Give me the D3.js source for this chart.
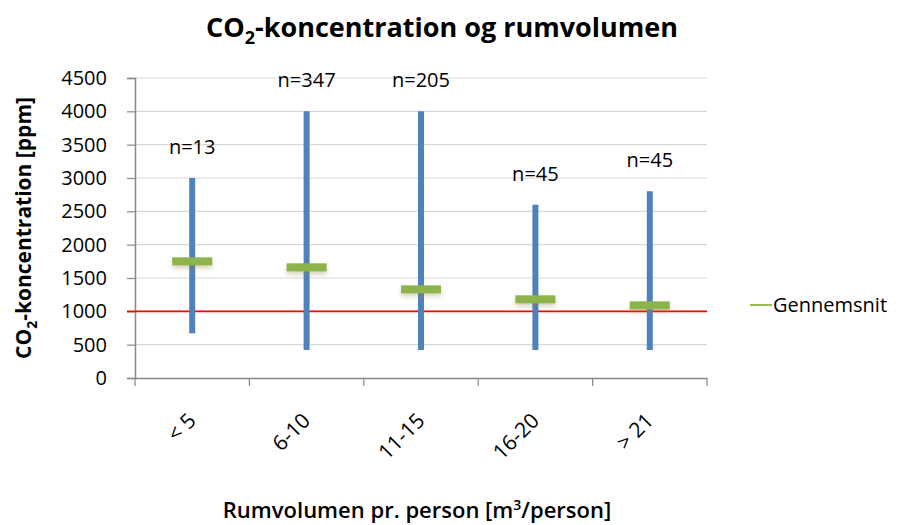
<!DOCTYPE html>
<html>
<head>
<meta charset="utf-8">
<script src="https://cdn.jsdelivr.net/npm/d3@7"></script>
<style>
  body { margin: 0; background: #fff; }
  svg text { font-family: "Open Sans", "Noto Sans", sans-serif; fill: #000; }
</style>
</head>
<body>
<svg id="chart" width="904" height="525"></svg>
<script>
// data
var categories = ['< 5', '6-10', '11-15', '16-20', '> 21'];
var minVals = [670, 420, 420, 420, 420];
var maxVals = [3000, 4000, 4000, 2600, 2800];
var meanVals = [1750, 1660, 1330, 1180, 1090];
var nLabels = ['n=13', 'n=347', 'n=205', 'n=45', 'n=45'];
var yTicks = [0, 500, 1000, 1500, 2000, 2500, 3000, 3500, 4000, 4500];
var limit = 1000;

var svg = d3.select('#chart');
var xLeft = 135, xRight = 707, yTop = 78, yBottom = 378;

var x = d3.scaleBand().domain(categories).range([xLeft, xRight]);
var y = d3.scaleLinear().domain([0, 4500]).range([yBottom, yTop]);
var cx = d => x(d) + x.bandwidth() / 2;

// drop shadow for the mean markers
var defs = svg.append('defs');
var f = defs.append('filter').attr('id', 'shadow').attr('x', '-30%').attr('y', '-80%').attr('width', '160%').attr('height', '300%');
f.append('feDropShadow').attr('dx', 0).attr('dy', 3).attr('stdDeviation', 2.5)
    .attr('flood-color', '#8a7a3a').attr('flood-opacity', 0.35);

// gridlines
svg.append('g').selectAll('line').data(yTicks.slice(1)).enter().append('line')
    .attr('x1', xLeft).attr('x2', xRight)
    .attr('y1', d => y(d)).attr('y2', d => y(d))
    .attr('stroke', '#d9d9d9').attr('stroke-width', 1.2);

// y axis
var yAxis = svg.append('g').attr('transform', 'translate(' + xLeft + ',0)')
    .call(d3.axisLeft(y).tickValues(yTicks).tickFormat(d3.format('d')).tickSize(8).tickPadding(20));
yAxis.select('.domain').attr('stroke', '#888').attr('stroke-width', 1.5);
yAxis.selectAll('.tick line').attr('stroke', '#888').attr('stroke-width', 1.2);
yAxis.selectAll('text').style('font-size', '20px').style('font-family', '"Open Sans", sans-serif');

// x axis
var xAxis = svg.append('g').attr('transform', 'translate(0,' + yBottom + ')')
    .call(d3.axisBottom(x).tickSize(0).tickFormat(''));
xAxis.select('.domain').attr('stroke', '#888').attr('stroke-width', 1.5);
svg.append('g').selectAll('line').data(categories.concat(['end'])).enter().append('line')
    .attr('x1', (d, i) => i < categories.length ? x(d) : xRight)
    .attr('x2', (d, i) => i < categories.length ? x(d) : xRight)
    .attr('y1', yBottom).attr('y2', yBottom + 8)
    .attr('stroke', '#888').attr('stroke-width', 1.2);

// rotated category labels
svg.append('g').selectAll('text').data(categories).enter().append('text')
    .attr('transform', d => 'translate(' + (cx(d) + 5) + ',' + (yBottom + 44) + ') rotate(-45)')
    .attr('text-anchor', 'end')
    .style('font-size', '21px')
    .text(d => d);

// red limit line
svg.append('line')
    .attr('x1', xLeft - 8).attr('x2', xRight)
    .attr('y1', y(limit)).attr('y2', y(limit))
    .attr('stroke', '#ff0000').attr('stroke-width', 1.8);

// range bars
svg.append('g').selectAll('line').data(categories).enter().append('line')
    .attr('x1', cx).attr('x2', cx)
    .attr('y1', (d, i) => y(minVals[i])).attr('y2', (d, i) => y(maxVals[i]))
    .attr('stroke', '#4f81bd').attr('stroke-width', 6);

// mean markers
svg.append('g').selectAll('rect').data(categories).enter().append('rect')
    .attr('x', d => cx(d) - 20)
    .attr('y', (d, i) => y(meanVals[i]) - 4)
    .attr('width', 40).attr('height', 8)
    .attr('fill', '#8db34c')
    .attr('filter', 'url(#shadow)');

// n labels
svg.append('g').selectAll('text').data(categories).enter().append('text')
    .attr('x', cx)
    .attr('y', (d, i) => y(maxVals[i]) - 24)
    .attr('text-anchor', 'middle')
    .style('font-size', '20px')
    .text((d, i) => nLabels[i]);

// title
var title = svg.append('text').attr('x', 442).attr('y', 37).attr('text-anchor', 'middle')
    .style('font-size', '27px').style('font-weight', 'bold');
title.append('tspan').text('CO');
title.append('tspan').attr('dy', 7).style('font-size', '18px').text('2');
title.append('tspan').attr('dy', -7).text('-koncentration og rumvolumen');

// y axis title
var yt = svg.append('text').attr('transform', 'translate(31,228) rotate(-90)')
    .attr('text-anchor', 'middle')
    .style('font-size', '21px').style('font-weight', 'bold');
yt.append('tspan').text('CO');
yt.append('tspan').attr('dy', 6).style('font-size', '14px').text('2');
yt.append('tspan').attr('dy', -6).text('-koncentration [ppm]');

// x axis title
var xt = svg.append('text').attr('x', 417).attr('y', 518).attr('text-anchor', 'middle')
    .style('font-size', '22px').style('font-weight', '600');
xt.append('tspan').text('Rumvolumen pr. person [m');
xt.append('tspan').attr('dy', -8).style('font-size', '14px').text('3');
xt.append('tspan').attr('dy', 8).text('/person]');

// legend
svg.append('line').attr('x1', 750).attr('x2', 772).attr('y1', 305).attr('y2', 305)
    .attr('stroke', '#9bbb59').attr('stroke-width', 2);
svg.append('text').attr('x', 773).attr('y', 305).attr('dy', '0.35em')
    .style('font-size', '20px').text('Gennemsnit');
</script>
</body>
</html>
